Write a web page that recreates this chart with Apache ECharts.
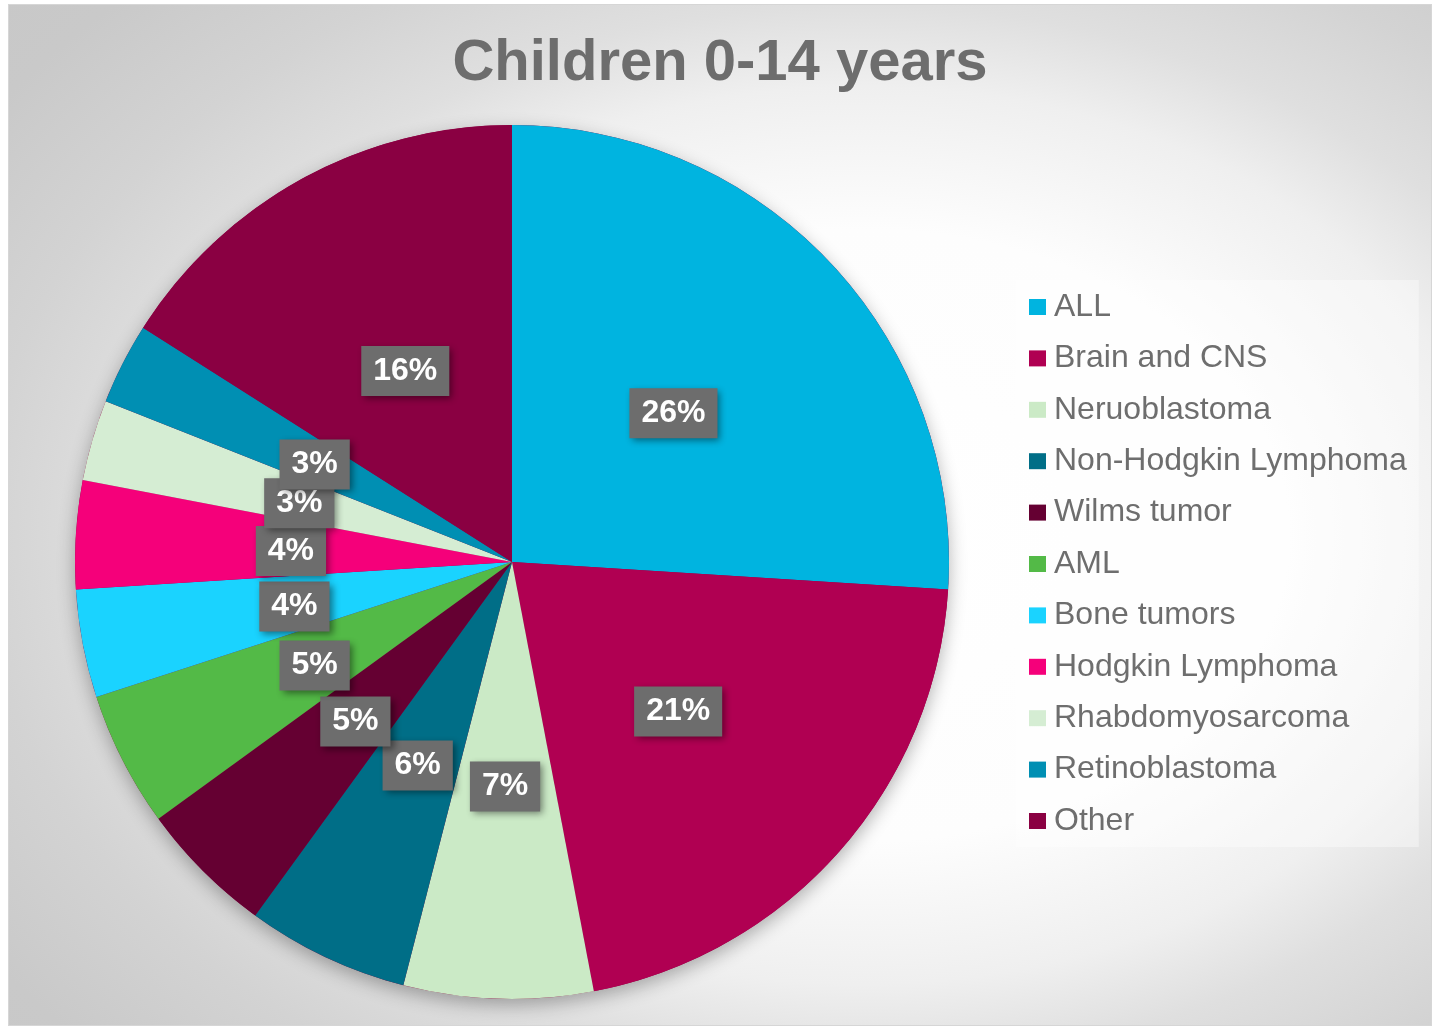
<!DOCTYPE html>
<html>
<head>
<meta charset="utf-8">
<title>Children 0-14 years</title>
<script src="https://cdn.jsdelivr.net/npm/echarts@6/dist/echarts.min.js"></script>
<style>
  html, body { margin: 0; padding: 0; background: #ffffff; }
  #chart {
    position: absolute;
    left: 8px; top: 4px;
    width: 1424px; height: 1022px;
    box-sizing: border-box;
    border: 1px solid #d6d6d6;
    background: radial-gradient(ellipse 100% 100% at 60% 52%,
      #ffffff 0%, #fdfdfd 30%, #efefef 44%, #dfdfdf 52%, #d3d3d3 62%, #c9c9c9 74%, #c5c5c5 100%);
  }
</style>
</head>
<body>
<div id="chart"></div>
<script>
// Cancer types among children aged 0-14, share of cases (%)
const categories = [
  'ALL', 'Brain and CNS', 'Neruoblastoma', 'Non-Hodgkin Lymphoma', 'Wilms tumor',
  'AML', 'Bone tumors', 'Hodgkin Lymphoma', 'Rhabdomyosarcoma', 'Retinoblastoma', 'Other'
];
const shares = [26, 21, 7, 6, 5, 5, 4, 4, 3, 3, 16];
const sliceColors = [
  '#00b4e0', '#b00052', '#cbeac6', '#006e87', '#650032',
  '#53ba47', '#1ad3ff', '#f5007a', '#d5edd3', '#008fb3', '#8a0042'
];

const chart = echarts.init(document.getElementById('chart'), null, { renderer: 'canvas' });

const FONT = '"Liberation Sans", Arial, sans-serif';
const CENTER = [503, 557];
const RADIUS = 437;

chart.setOption({
  backgroundColor: 'transparent',
  animation: false,
  title: {
    text: 'Children 0-14 years',
    left: 'center',
    top: 25,
    textStyle: { fontFamily: FONT, fontSize: 58, fontWeight: 'bold', color: '#6d6d6d' }
  },
  legend: {
    orient: 'vertical',
    left: 1007,
    top: 275,
    data: categories,
    icon: 'rect',
    itemWidth: 17,
    itemHeight: 16,
    itemGap: 19.4,
    padding: [11, 12, 10, 13],
    backgroundColor: 'rgba(255,255,255,0.38)',
    selectedMode: false,
    textStyle: {
      fontFamily: FONT, fontSize: 32, color: '#6e6e6e',
      lineHeight: 32, padding: [0, 0, 0, 3]
    }
  },
  series: [
    {
      // soft drop shadow under the whole disc
      type: 'pie',
      silent: true,
      center: CENTER,
      radius: RADIUS,
      z: 1,
      label: { show: false },
      labelLine: { show: false },
      itemStyle: {
        color: '#8a0042',
        shadowBlur: 18,
        shadowOffsetY: 6,
        shadowColor: 'rgba(0,0,0,0.30)'
      },
      data: [{ value: 1, name: '' }]
    },
    {
      type: 'pie',
      center: CENTER,
      radius: RADIUS,
      startAngle: 90,
      clockwise: true,
      z: 2,
      avoidLabelOverlap: false,
      labelLayout: { hideOverlap: false },
      data: categories.map((name, i) => ({
        name: name,
        value: shares[i],
        itemStyle: { color: sliceColors[i] }
      })),
      itemStyle: { borderWidth: 0 },
      emphasis: { disabled: true },
      label: {
        show: true,
        position: 'inside',
        offset: [0, 3],
        formatter: p => p.value + '%',
        fontFamily: FONT,
        fontSize: 32,
        fontWeight: 'bold',
        color: '#ffffff',
        lineHeight: 34,
        backgroundColor: '#6d6d6d',
        padding: [8, 12],
        shadowColor: 'rgba(0,0,0,0.45)',
        shadowBlur: 7,
        shadowOffsetX: 3,
        shadowOffsetY: 3
      },
      labelLine: { show: false }
    }
  ]
});
</script>
</body>
</html>
